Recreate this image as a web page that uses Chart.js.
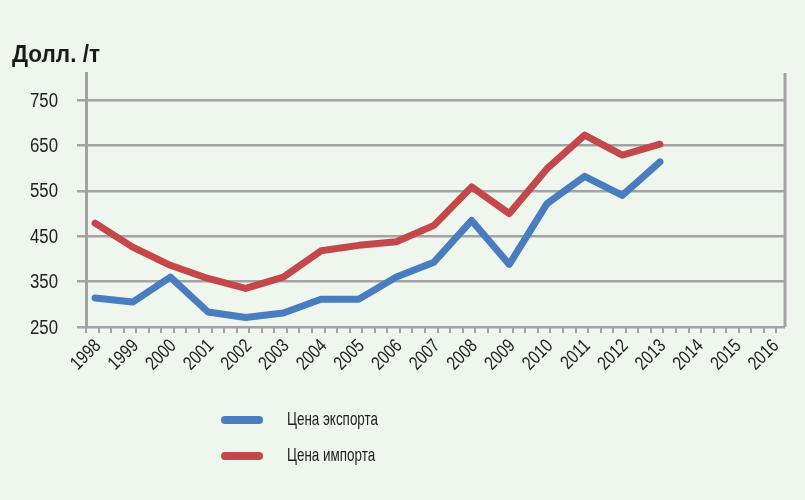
<!DOCTYPE html>
<html>
<head>
<meta charset="utf-8">
<script src="https://cdn.jsdelivr.net/npm/chart.js@4/dist/chart.umd.min.js"></script>
<style>
html,body{margin:0;padding:0;background:#eff6ee;}
#wrap{width:805px;height:500px;position:relative;}
</style>
</head>
<body>
<div id="wrap"><canvas id="c" width="805" height="500"></canvas></div>
<script>
const years = [1998,1999,2000,2001,2002,2003,2004,2005,2006,2007,2008,2009,2010,2011,2012,2013];
const axisYears = [1998,1999,2000,2001,2002,2003,2004,2005,2006,2007,2008,2009,2010,2011,2012,2013,2014,2015,2016];
const exportPrice = [314,305,360,283,271,281,311,311,360,393,485,388,522,582,540,614];
const importPrice = [479,426,386,357,335,360,418,430,438,474,559,500,599,673,629,653];
const yTicks = [250,350,450,550,650,750];
const seriesNames = ['Цена экспорта','Цена импорта'];
const yTitle = 'Долл. /т';

const FONT = "'Liberation Sans','Arial',sans-serif";
const BLUE = '#4a7dc0';
const RED = '#c4484a';
const GRID = '#a3a3a3';

function narrowText(ctx, text, x, y, font, scaleX, align){
  ctx.save();
  ctx.font = font;
  const w = ctx.measureText(text).width * scaleX;
  let x0 = x;
  if(align==='right') x0 = x - w;
  else if(align==='center') x0 = x - w/2;
  ctx.translate(x0, y);
  ctx.scale(scaleX, 1);
  ctx.textAlign = 'left';
  ctx.fillText(text, 0, 0);
  ctx.restore();
}
function fitScale(ctx, text, font, target){
  ctx.save(); ctx.font = font;
  const w = ctx.measureText(text).width;
  ctx.restore();
  return target / w;
}

const bgPlugin = {
  id:'bg',
  beforeDraw(chart){
    const ctx = chart.ctx;
    ctx.save();
    ctx.fillStyle = '#eff6ee';
    ctx.fillRect(0,0,chart.width,chart.height);
    ctx.restore();
  },
  afterDraw(chart){
    const ctx = chart.ctx, a = chart.chartArea;
    const xs = chart.scales.x, ys = chart.scales.y;
    ctx.save();
    ctx.strokeStyle = GRID; ctx.lineWidth = 3;
    ctx.beginPath(); ctx.moveTo(a.right, a.top); ctx.lineTo(a.right, a.bottom); ctx.stroke();

    ctx.fillStyle = '#1a1a1a';
    ctx.textBaseline = 'alphabetic';
    const tFont = "bold 24px " + FONT;
    narrowText(ctx, yTitle, 12, 62, tFont, fitScale(ctx, yTitle, tFont, 88), 'left');

    ctx.fillStyle = '#222';
    ctx.textBaseline = 'middle';
    const yFont = "20px " + FONT;
    const ySc = fitScale(ctx, '750', yFont, 28);
    yTicks.forEach(v=>{
      narrowText(ctx, String(v), 58, ys.getPixelForValue(v)+1, yFont, ySc, 'right');
    });

    const xFont = "19px " + FONT;
    const xSc = fitScale(ctx, '1998', xFont, 34);
    axisYears.forEach(y=>{
      const px = xs.getPixelForValue(y);
      ctx.save();
      ctx.translate(px+3, a.bottom + 16);
      ctx.rotate(-Math.PI/4);
      narrowText(ctx, String(y), 0, 0, xFont, xSc, 'right');
      ctx.restore();
    });

    const items = chart.data.datasets;
    const ly = [420, 456];
    const lFont = "19px " + FONT;
    const lSc = fitScale(ctx, items[0].label, lFont, 91);
    items.forEach((ds,i)=>{
      ctx.strokeStyle = ds.borderColor; ctx.lineWidth = 8; ctx.lineCap = 'round';
      ctx.beginPath(); ctx.moveTo(225, ly[i]); ctx.lineTo(259, ly[i]); ctx.stroke();
      ctx.fillStyle = '#222';
      ctx.textBaseline = 'middle';
      narrowText(ctx, ds.label, 287, ly[i], lFont, lSc, 'left');
    });
    ctx.restore();
  }
};

const toPts = (arr)=> arr.map((v,i)=>({x:years[i], y:v}));

new Chart(document.getElementById('c'), {
  type:'line',
  data:{
    datasets:[
      {label:seriesNames[0], data:toPts(exportPrice), borderColor:BLUE, backgroundColor:BLUE, borderWidth:7, pointRadius:0, tension:0, borderJoinStyle:'round', borderCapStyle:'round'},
      {label:seriesNames[1], data:toPts(importPrice), borderColor:RED, backgroundColor:RED, borderWidth:7, pointRadius:0, tension:0, borderJoinStyle:'round', borderCapStyle:'round'}
    ]
  },
  options:{
    responsive:false,
    animation:false,
    layout:{padding:{left:0,right:20,top:73,bottom:0}},
    plugins:{legend:{display:false}, tooltip:{enabled:false}},
    scales:{
      x:{
        type:'linear',
        min:1997.76,
        max:2016.32,
        afterBuildTicks(scale){
          const t=[];
          for(let i=0;i<60;i++){
            const v = 1997.76 + i/3;
            if(v<=2016.33) t.push({value:v});
          }
          scale.ticks = t;
        },
        afterFit(scale){ scale.height = 173; },
        grid:{display:true, drawOnChartArea:false, drawTicks:true, tickLength:6, color:GRID, lineWidth:2},
        border:{display:false},
        ticks:{autoSkip:false, maxRotation:0, minRotation:0, callback(){ return ''; }}
      },
      y:{
        min:250,
        max:810,
        afterBuildTicks(scale){ scale.ticks = yTicks.map(v=>({value:v})); },
        afterFit(scale){ scale.width = 86; },
        grid:{color:GRID, lineWidth:2.5, tickLength:9, drawTicks:true},
        border:{display:true, color:GRID, width:3},
        ticks:{padding:19, callback(){ return ''; }}
      }
    }
  },
  plugins:[bgPlugin]
});
</script>
</body>
</html>
